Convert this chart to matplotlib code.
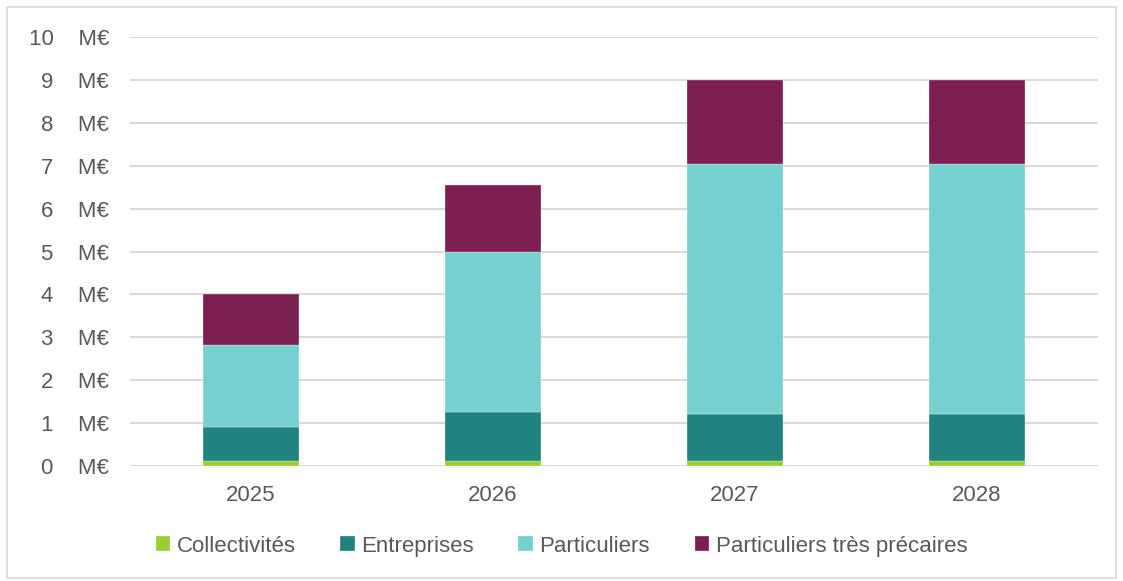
import numpy as np
import matplotlib.pyplot as plt
from matplotlib.patches import Rectangle

plt.rcParams['font.family'] = ['Liberation Sans', 'DejaVu Sans']

# data (M€)
years = ['2025', '2026', '2027', '2028']
collectivites = [0.12, 0.12, 0.12, 0.12]
entreprises = [0.80, 1.14, 1.09, 1.09]
particuliers = [1.90, 3.73, 5.84, 5.84]
tres_precaires = [1.19, 1.56, 1.96, 1.96]
yticks = list(range(0, 11))

series = [
    ('Collectivités', collectivites, '#9ACD32'),
    ('Entreprises', entreprises, '#218380'),
    ('Particuliers', particuliers, '#77D0D0'),
    ('Particuliers très précaires', tres_precaires, '#7E1F52'),
]

txt = '#595959'
fig = plt.figure(figsize=(11.23, 5.81), dpi=100)
ax = fig.add_axes([0.1158, 0.198, 0.862, 0.738])

x = np.arange(len(years))
bottom = np.zeros(len(years))
for name, vals, col in series:
    ax.bar(x, vals, width=0.4, bottom=bottom, color=col, label=name,
           edgecolor='white', linewidth=0.2, zorder=3)
    bottom += np.array(vals)

ax.set_xlim(-0.5, 3.5)
ax.set_ylim(0, 10)
ax.set_yticks(yticks)
ax.set_yticklabels([f'{v}    M€' for v in yticks])
ax.set_xticks(x)
ax.set_xticklabels(years)
ax.tick_params(axis='both', length=0, labelsize=16, colors=txt)
ax.tick_params(axis='y', pad=15)
ax.tick_params(axis='x', pad=14)
ax.grid(axis='y', color='#D9D9D9', linewidth=1.5, zorder=0)
for s in ax.spines.values():
    s.set_visible(False)

leg = fig.legend(loc='center', bbox_to_anchor=(0.5, 0.06), ncol=4, frameon=False,
                 fontsize=16, handlelength=0.65, handleheight=0.65, handletextpad=0.3,
                 columnspacing=2.0)
for t in leg.get_texts():
    t.set_color(txt)

fig.patches.append(Rectangle((0.006, 0.005), 0.988, 0.983, transform=fig.transFigure,
                             fill=False, edgecolor='#D9D9D9', linewidth=1.2))

fig.savefig('out.png', dpi=100)
